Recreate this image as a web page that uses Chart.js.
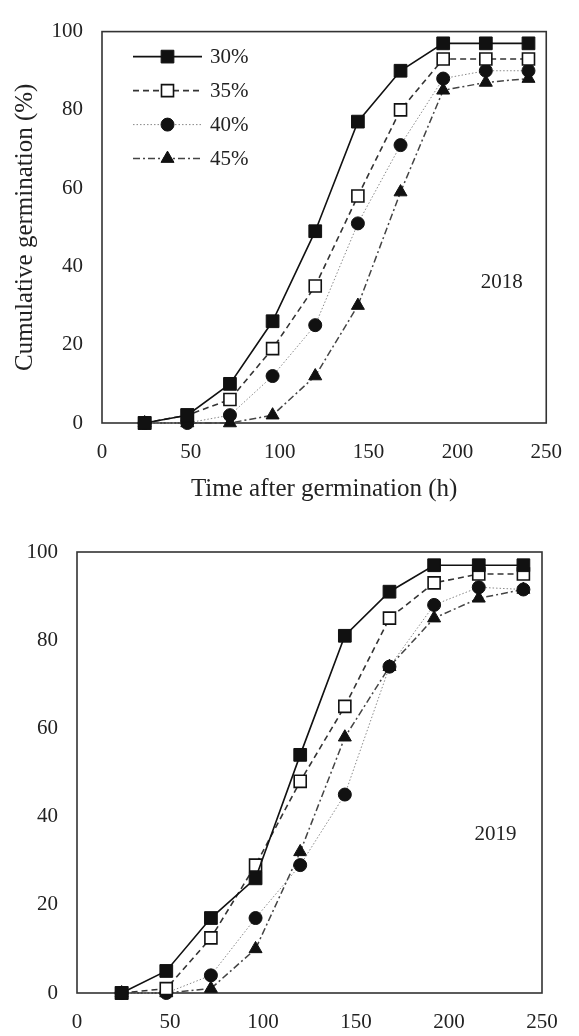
<!DOCTYPE html>
<html>
<head>
<meta charset="utf-8">
<script src="https://cdn.jsdelivr.net/npm/chart.js@4.4.0/dist/chart.umd.min.js"></script>
<style>
  html, body { margin: 0; padding: 0; background: #fff; }
  #wrap { position: relative; width: 579px; height: 1036px; }
  .box { position: absolute; left: 0; width: 579px; }
</style>
</head>
<body>
<div id="wrap">
  <div class="box" style="top:0;height:510px"><canvas id="c2018"></canvas></div>
  <div class="box" style="top:520px;height:516px"><canvas id="c2019"></canvas></div>
</div>
<script>
// =======================
// Data
// =======================
const hours = [24, 48, 72, 96, 120, 144, 168, 192, 216, 240];
const seriesNames = ['30%', '35%', '40%', '45%'];
const xTicks = [0, 50, 100, 150, 200, 250];
const yTicks = [0, 20, 40, 60, 80, 100];

// 2018
const g2018_30 = [0, 2, 10, 26, 49, 77, 90, 97, 97, 97];
const g2018_35 = [0, 2, 6, 19, 35, 58, 80, 93, 93, 93];
const g2018_40 = [0, 0, 2, 12, 25, 51, 71, 88, 90, 90];
const g2018_45 = [0, 0, 0, 2, 12, 30, 59, 85, 87, 88];

// 2019
const g2019_30 = [0, 5, 17, 26, 54, 81, 91, 97, 97, 97];
const g2019_35 = [0, 1, 12.5, 29, 48, 65, 85, 93, 95, 95];
const g2019_40 = [0, 0, 4, 17, 29, 45, 74, 88, 92, 91.5];
const g2019_45 = [0, 0, 1, 10, 32, 58, 74, 85, 89.5, 91.5];

// =======================
// Styles
// =======================
const FONT = '"Liberation Serif", "Times New Roman", serif';
const TXT = '#222';

const styles = [
  { borderColor: '#111', borderWidth: 1.6, borderDash: [], pointStyle: 'rect', pointRadius: 9, pointBackgroundColor: '#111', pointBorderColor: '#111', pointBorderWidth: 1 },
  { borderColor: '#333', borderWidth: 1.6, borderDash: [6, 4], pointStyle: 'rect', pointRadius: 8.5, pointBackgroundColor: '#fff', pointBorderColor: '#111', pointBorderWidth: 1.6 },
  { borderColor: '#888', borderWidth: 1, borderDash: [1.5, 2], pointStyle: 'circle', pointRadius: 6.5, pointBackgroundColor: '#111', pointBorderColor: '#111', pointBorderWidth: 1 },
  { borderColor: '#444', borderWidth: 1.5, borderDash: [7, 3, 2, 3], pointStyle: 'triangle', pointRadius: 7.5, pointBackgroundColor: '#111', pointBorderColor: '#111', pointBorderWidth: 1 }
];

function buildDatasets(valueLists) {
  return valueLists.map((vals, i) => Object.assign({
    label: seriesNames[i],
    data: hours.map((h, k) => ({ x: h, y: vals[k] })),
    tension: 0,
    clip: false,
    fill: false
  }, styles[i]));
}

// =======================
// Plugins
// =======================
const frame = {
  id: 'frame',
  beforeDatasetsDraw(chart) {
    const { ctx, chartArea: a } = chart;
    ctx.save();
    ctx.strokeStyle = '#333';
    ctx.lineWidth = 1.6;
    ctx.strokeRect(a.left, a.top, a.right - a.left, a.bottom - a.top);
    ctx.restore();
  }
};

const inLegend = {
  id: 'inLegend',
  afterDraw(chart, args, opts) {
    if (!opts.show) return;
    const { ctx, chartArea: a } = chart;
    chart.data.datasets.forEach((ds, i) => {
      const y = a.top + 25 + i * 34;
      const x0 = a.left + 31, x1 = x0 + 69;
      ctx.save();
      ctx.strokeStyle = ds.borderColor;
      ctx.lineWidth = ds.borderWidth;
      ctx.setLineDash(ds.borderDash);
      ctx.beginPath(); ctx.moveTo(x0, y); ctx.lineTo(x1, y); ctx.stroke();
      ctx.setLineDash([]);
      ctx.fillStyle = ds.pointBackgroundColor;
      ctx.strokeStyle = ds.pointBorderColor;
      ctx.lineWidth = ds.pointBorderWidth;
      Chart.helpers.drawPoint(ctx, { pointStyle: ds.pointStyle, radius: ds.pointRadius, borderWidth: ds.pointBorderWidth, rotation: 0 }, (x0 + x1) / 2, y);
      ctx.fillStyle = TXT;
      ctx.font = '21px ' + FONT;
      ctx.textBaseline = 'middle';
      ctx.fillText(ds.label, x1 + 8, y + 1);
      ctx.restore();
    });
  }
};

const yearTag = {
  id: 'yearTag',
  afterDraw(chart, args, opts) {
    const { ctx, scales } = chart;
    ctx.save();
    ctx.fillStyle = TXT;
    ctx.font = '21px ' + FONT;
    ctx.textAlign = 'center';
    ctx.textBaseline = 'middle';
    ctx.fillText(opts.text, scales.x.getPixelForValue(opts.x), scales.y.getPixelForValue(opts.y));
    ctx.restore();
  }
};

// =======================
// Chart builder
// =======================
function makeChart(id, valueLists, o) {
  return new Chart(document.getElementById(id), {
    type: 'line',
    data: { datasets: buildDatasets(valueLists) },
    plugins: [frame, inLegend, yearTag],
    options: {
      responsive: true,
      maintainAspectRatio: false,
      animation: false,
      layout: { padding: { top: o.padTop, right: o.padRight, left: 0, bottom: 0 } },
      plugins: {
        legend: { display: false },
        tooltip: { enabled: false },
        inLegend: { show: o.legend },
        yearTag: { text: o.year, x: 225, y: 36 }
      },
      scales: {
        x: {
          type: 'linear', min: 0, max: 250,
          afterBuildTicks: s => { s.ticks = xTicks.map(v => ({ value: v })); },
          ticks: { padding: 17, color: TXT, font: { family: FONT, size: 21 } },
          grid: { display: false, drawTicks: false },
          border: { display: false },
          title: { display: !!o.xTitle, text: o.xTitle, color: TXT, font: { family: FONT, size: 25 }, padding: { top: 0, bottom: 6 } },
          afterFit: s => { s.height = o.xHeight; }
        },
        y: {
          min: 0, max: 100,
          afterBuildTicks: s => { s.ticks = yTicks.map(v => ({ value: v })); },
          ticks: { padding: 19, color: TXT, font: { family: FONT, size: 21 } },
          grid: { display: false, drawTicks: false },
          border: { display: false },
          title: { display: !!o.yTitle, text: o.yTitle, color: TXT, font: { family: FONT, size: 25 }, padding: { top: 10, bottom: 0 } },
          afterFit: s => { s.width = o.yWidth; }
        }
      }
    }
  });
}

makeChart('c2018', [g2018_30, g2018_35, g2018_40, g2018_45], {
  legend: true, year: '2018',
  xTitle: 'Time after germination (h)', yTitle: 'Cumulative germination (%)',
  padTop: 25, padRight: 20, yWidth: 102, xHeight: 87
});

makeChart('c2019', [g2019_30, g2019_35, g2019_40, g2019_45], {
  legend: false, year: '2019',
  xTitle: '', yTitle: '',
  padTop: 32, padRight: 37, yWidth: 77, xHeight: 43
});
</script>
</body>
</html>
